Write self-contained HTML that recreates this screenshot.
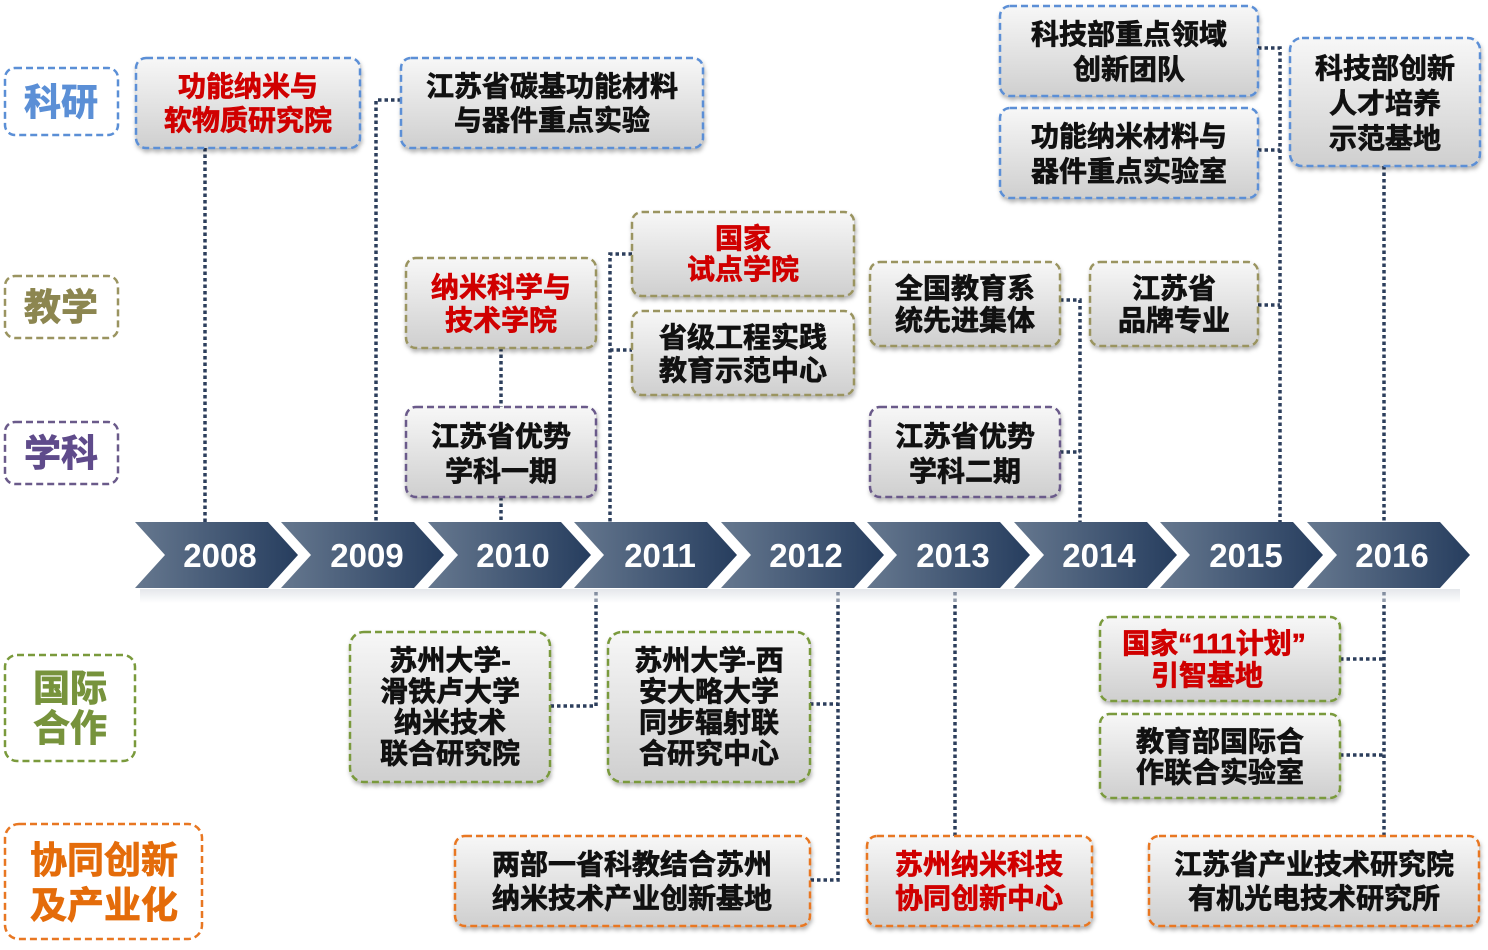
<!DOCTYPE html>
<html><head><meta charset="utf-8"><style>
html,body{margin:0;padding:0;background:#fff;width:1488px;height:950px;overflow:hidden}
svg text{font-family:"Liberation Sans","Noto Sans CJK SC",sans-serif;font-weight:bold;text-anchor:middle}
</style></head><body>
<svg width="1488" height="950" viewBox="0 0 1488 950" xmlns="http://www.w3.org/2000/svg">
<defs>
<linearGradient id="bg" x1="0" y1="0" x2="0" y2="1"><stop offset="0" stop-color="#f7f7f7"/><stop offset="1" stop-color="#cfcfcf"/></linearGradient>
<linearGradient id="ch" x1="0" y1="0" x2="1" y2="0"><stop offset="0" stop-color="#66788f"/><stop offset="1" stop-color="#263d5e"/></linearGradient>
<linearGradient id="rf" x1="0" y1="0" x2="0" y2="1"><stop offset="0" stop-color="#c9ced6"/><stop offset="1" stop-color="#ffffff"/></linearGradient>
<filter id="sh" x="-10%" y="-10%" width="120%" height="130%"><feDropShadow dx="1" dy="3" stdDeviation="2" flood-color="#000" flood-opacity="0.3"/></filter>
</defs>
<g stroke="#2c3e5c" stroke-width="3.5" stroke-dasharray="3.5 3" fill="none">
<path d="M205 148V522"/>
<path d="M401 100H376V522"/>
<path d="M501 348V407M501 497V522"/>
<path d="M632 254H610V522M610 350H632"/>
<path d="M1060 300H1080V522M1060 452H1080"/>
<path d="M1258 48H1280V522M1258 150H1280M1258 305H1280"/>
<path d="M1384 166V522"/>
<path d="M596 592V706H550"/>
<path d="M838 592V880H810M810 704H838"/>
<path d="M955 592V836"/>
<path d="M1384 592V836M1340 659H1384M1340 755H1384"/>
</g>
<g fill="url(#rf)" opacity="0.5">
<rect x="140" y="589" width="1320" height="14"/>
</g>
<g fill="url(#ch)">
<path d="M135 522H268L298 555L268 588H135L165 555Z"/>
<path d="M281 522H414L444 555L414 588H281L311 555Z"/>
<path d="M428 522H561L591 555L561 588H428L458 555Z"/>
<path d="M574 522H707L737 555L707 588H574L604 555Z"/>
<path d="M721 522H854L884 555L854 588H721L751 555Z"/>
<path d="M867 522H1000L1030 555L1000 588H867L897 555Z"/>
<path d="M1014 522H1147L1177 555L1147 588H1014L1044 555Z"/>
<path d="M1160 522H1293L1323 555L1293 588H1160L1190 555Z"/>
<path d="M1307 522H1440L1470 555L1440 588H1307L1337 555Z"/>
</g>
<g fill="#fff" font-size="33">
<text x="220" y="567">2008</text><text x="367" y="567">2009</text><text x="513" y="567">2010</text>
<text x="660" y="567">2011</text><text x="806" y="567">2012</text><text x="953" y="567">2013</text>
<text x="1099" y="567">2014</text><text x="1246" y="567">2015</text><text x="1392" y="567">2016</text>
</g>
<g fill="#fff" stroke-width="2.5" stroke-dasharray="7 4">
<rect x="5" y="68" width="113" height="67" rx="10" stroke="#5b8fd6"/>
<rect x="5" y="276" width="113" height="62" rx="10" stroke="#9a9460"/>
<rect x="5" y="422" width="113" height="62" rx="10" stroke="#6a5a8a"/>
<rect x="5" y="655" width="130" height="106" rx="12" stroke="#7a9a3c"/>
<rect x="5" y="824" width="197" height="115" rx="14" stroke="#e87722"/>
</g>
<g font-size="37" stroke-width="0.8">
<text x="61" y="115" fill="#5b8fd6" stroke="#5b8fd6">科研</text>
<text x="61" y="320" fill="#8c8650" stroke="#8c8650">教学</text>
<text x="61" y="466" fill="#5f4b8b" stroke="#5f4b8b">学科</text>
<text x="70" y="701" fill="#77933c" stroke="#77933c">国际</text><text x="70" y="741" fill="#77933c" stroke="#77933c">合作</text>
<text x="104" y="873" fill="#e46c0a" stroke="#e46c0a">协同创新</text><text x="104" y="918" fill="#e46c0a" stroke="#e46c0a">及产业化</text>
</g>
<g fill="url(#bg)" stroke-width="2.5" stroke-dasharray="7 4" filter="url(#sh)">
<rect x="136" y="58" width="224" height="90" rx="10" stroke="#5b8fd6"/>
<rect x="401" y="58" width="302" height="90" rx="10" stroke="#5b8fd6"/>
<rect x="1000" y="6" width="258" height="90" rx="10" stroke="#5b8fd6"/>
<rect x="1000" y="108" width="258" height="90" rx="10" stroke="#5b8fd6"/>
<rect x="1290" y="38" width="190" height="128" rx="12" stroke="#5b8fd6"/>
<rect x="632" y="212" width="222" height="84" rx="10" stroke="#9a9460"/>
<rect x="406" y="258" width="190" height="90" rx="10" stroke="#9a9460"/>
<rect x="632" y="311" width="222" height="84" rx="10" stroke="#9a9460"/>
<rect x="870" y="262" width="190" height="84" rx="10" stroke="#9a9460"/>
<rect x="1090" y="262" width="168" height="84" rx="10" stroke="#9a9460"/>
<rect x="406" y="407" width="190" height="90" rx="10" stroke="#6a5a8a"/>
<rect x="870" y="407" width="190" height="90" rx="10" stroke="#6a5a8a"/>
<rect x="350" y="632" width="200" height="150" rx="14" stroke="#7a9a3c"/>
<rect x="608" y="632" width="202" height="150" rx="14" stroke="#7a9a3c"/>
<rect x="1100" y="617" width="240" height="84" rx="10" stroke="#7a9a3c"/>
<rect x="1100" y="714" width="240" height="84" rx="10" stroke="#7a9a3c"/>
<rect x="455" y="836" width="355" height="90" rx="10" stroke="#e87722"/>
<rect x="867" y="836" width="225" height="90" rx="10" stroke="#e87722"/>
<rect x="1149" y="836" width="330" height="90" rx="10" stroke="#e87722"/>
</g>
<g font-size="28" fill="#111" stroke="#111" stroke-width="0.7">
<g fill="#d00000" stroke="#d00000">
<text x="248" y="96">功能纳米与</text><text x="248" y="130">软物质研究院</text>
<text x="743" y="248">国家</text><text x="743" y="279">试点学院</text>
<text x="501" y="297">纳米科学与</text><text x="501" y="330">技术学院</text>
<text x="1214" y="653">国家“111计划”</text><text x="1207" y="685">引智基地</text>
<text x="979" y="874">苏州纳米科技</text><text x="979" y="908">协同创新中心</text>
</g>
<text x="552" y="96">江苏省碳基功能材料</text><text x="552" y="130">与器件重点实验</text>
<text x="1129" y="44">科技部重点领域</text><text x="1129" y="79">创新团队</text>
<text x="1129" y="146">功能纳米材料与</text><text x="1129" y="181">器件重点实验室</text>
<text x="1385" y="78">科技部创新</text><text x="1385" y="113">人才培养</text><text x="1385" y="148">示范基地</text>
<text x="743" y="347">省级工程实践</text><text x="743" y="380">教育示范中心</text>
<text x="965" y="298">全国教育系</text><text x="965" y="330">统先进集体</text>
<text x="1174" y="298">江苏省</text><text x="1174" y="330">品牌专业</text>
<text x="501" y="446">江苏省优势</text><text x="501" y="481">学科一期</text>
<text x="965" y="446">江苏省优势</text><text x="965" y="481">学科二期</text>
<text x="450" y="670">苏州大学-</text><text x="450" y="701">滑铁卢大学</text><text x="450" y="732">纳米技术</text><text x="450" y="763">联合研究院</text>
<text x="709" y="670">苏州大学-西</text><text x="709" y="701">安大略大学</text><text x="709" y="732">同步辐射联</text><text x="709" y="763">合研究中心</text>
<text x="1220" y="751">教育部国际合</text><text x="1220" y="782">作联合实验室</text>
<text x="632" y="874">两部一省科教结合苏州</text><text x="632" y="908">纳米技术产业创新基地</text>
<text x="1314" y="874">江苏省产业技术研究院</text><text x="1314" y="908">有机光电技术研究所</text>
</g>
</svg>
</body></html>
